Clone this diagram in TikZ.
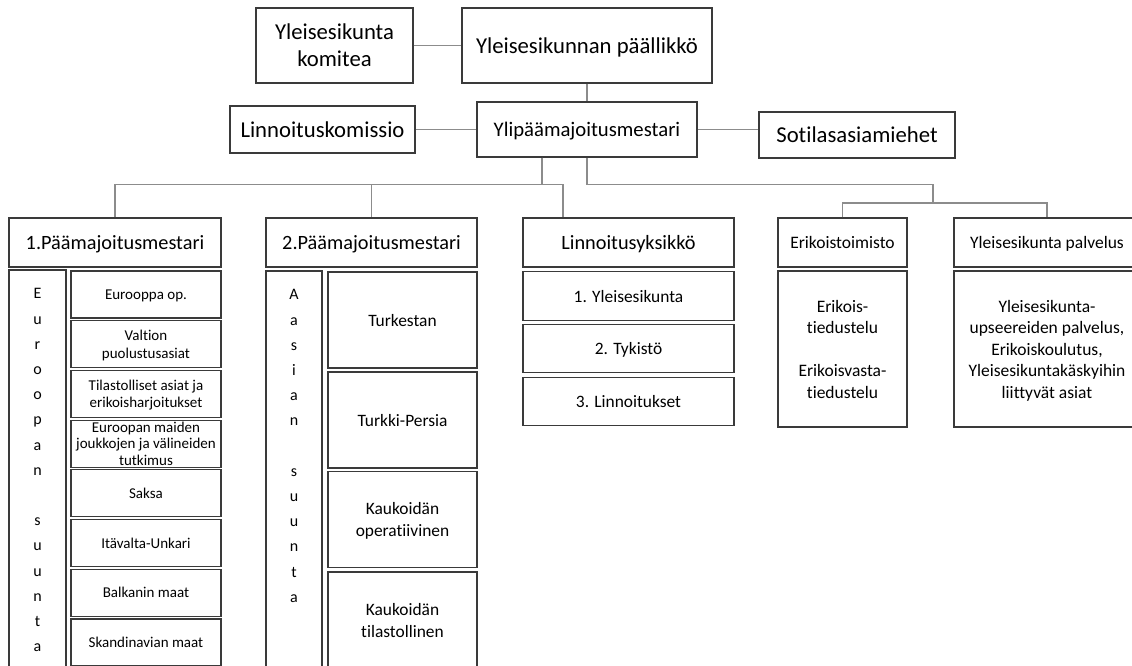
\documentclass[tikz,border=0pt]{standalone}
\usepackage{fontspec}
\setmainfont{Carlito}[Ligatures=NoCommon]
\usetikzlibrary{positioning}
\definecolor{boxline}{HTML}{3A3A3A}
\definecolor{linkline}{HTML}{8C8C8C}
\newcommand{\toptext}{\fontsize{22.7pt}{27pt}\selectfont}
\newcommand{\yptext}{\fontsize{20.7pt}{24pt}\selectfont}
\newcommand{\headtext}{\fontsize{20.3pt}{24pt}\selectfont}
\newcommand{\sidehead}{\fontsize{17.5pt}{21.5pt}\selectfont}
\newcommand{\subtext}{\fontsize{15pt}{17pt}\selectfont}
\newcommand{\midtext}{\fontsize{17.4pt}{22pt}\selectfont}
\newcommand{\lettertext}{\fontsize{16pt}{25.2pt}\selectfont}

\begin{document}
\begin{tikzpicture}[x=1pt,y=-1pt,
    orgbox/.style={draw=boxline, line width=1.2pt, inner sep=0pt, text depth=0pt, align=center},
    link/.style={draw=linkline, line width=1.1pt}]
  \useasboundingbox (0,0) rectangle (1132,666);

  % top level
  \node[orgbox, minimum width=157, minimum height=75, font=\toptext] (kom) at (334.5,45.5) {Yleisesikunta\\komitea};
  \node[orgbox, minimum width=250, minimum height=75, font=\toptext] (pal) at (587,45.5) {Yleisesikunnan päällikkö};
  \node[orgbox, minimum width=185, minimum height=47, font=\toptext] (lk) at (322.5,129.5) {Linnoituskomissio};
  \node[orgbox, minimum width=220, minimum height=55, font=\yptext] (yli) at (587,129.5) {Ylipäämajoitusmestari};
  \node[orgbox, minimum width=196, minimum height=46, font=\toptext] (sot) at (857,135) {Sotilasasiamiehet};

  % column heads
  \node[orgbox, minimum width=212, minimum height=49, font=\headtext] (pm1) at (115,242.5) {1.Päämajoitusmestari};
  \node[orgbox, minimum width=211, minimum height=49, font=\headtext] (pm2) at (371.5,242.5) {2.Päämajoitusmestari};
  \node[orgbox, minimum width=211, minimum height=49, font=\headtext] (lin) at (628.5,242.5) {Linnoitusyksikkö};
  \node[orgbox, minimum width=129, minimum height=49, font=\sidehead] (erk) at (842.5,242.5) {Erikoistoimisto};
  \node[orgbox, minimum width=186, minimum height=49, font=\sidehead] (ysp) at (1047,242.5) {Yleisesikunta palvelus};

  % 1. paamajoitusmestari
  \node[orgbox, minimum width=57, minimum height=402,
        label={[anchor=north, yshift=-19pt, inner sep=0pt, align=center, font=\lettertext]north:{E\\u\\r\\o\\o\\p\\a\\n\\[25.2pt]s\\u\\u\\n\\t\\a}}] (eur) at (37.5,471) {};
  \node[orgbox, minimum width=150, minimum height=47, font=\subtext] (e1) at (146,294.5) {Eurooppa op.};
  \node[orgbox, minimum width=150, minimum height=47, font=\fontsize{15pt}{18pt}\selectfont] (e2) at (146,344.2) {Valtion\\puolustusasiat};
  \node[orgbox, minimum width=150, minimum height=47, font=\subtext] (e3) at (146,393.9) {Tilastolliset asiat ja\\erikoisharjoitukset};
  \node[orgbox, minimum width=150, minimum height=47, font=\fontsize{15pt}{16.5pt}\selectfont] (e4) at (146,443.6) {Euroopan maiden\\joukkojen ja välineiden\\tutkimus};
  \node[orgbox, minimum width=150, minimum height=47, font=\subtext] (e5) at (146,493.3) {Saksa};
  \node[orgbox, minimum width=150, minimum height=47, font=\subtext] (e6) at (146,543) {Itävalta-Unkari};
  \node[orgbox, minimum width=150, minimum height=47, font=\subtext] (e7) at (146,592.7) {Balkanin maat};
  \node[orgbox, minimum width=150, minimum height=47, font=\subtext] (e8) at (146,642.4) {Skandinavian maat};

  % 2. paamajoitusmestari
  \node[orgbox, minimum width=56, minimum height=401,
        label={[anchor=north, yshift=-19pt, inner sep=0pt, align=center, font=\lettertext]north:{A\\a\\s\\i\\a\\n\\[25.2pt]s\\u\\u\\n\\t\\a}}] (ast) at (294,471.5) {};
  \node[orgbox, minimum width=149, minimum height=96, font=\midtext] (a1) at (402.5,320) {Turkestan};
  \node[orgbox, minimum width=149, minimum height=96, font=\midtext] (a2) at (402.5,420) {Turkki-Persia};
  \node[orgbox, minimum width=149, minimum height=96, font=\midtext] (a3) at (402.5,519.5) {Kaukoidän\\operatiivinen};
  \node[orgbox, minimum width=149, minimum height=96, font=\midtext] (a4) at (402.5,620) {Kaukoidän\\tilastollinen};

  % linnoitusyksikko
  \node[orgbox, minimum width=211, minimum height=48.5, font=\midtext] (l1) at (628.5,296) {1. Yleisesikunta};
  \node[orgbox, minimum width=211, minimum height=48.5, font=\midtext] (l2) at (628.5,348.5) {2. Tykistö};
  \node[orgbox, minimum width=211, minimum height=48.5, font=\midtext] (l3) at (628.5,401.5) {3. Linnoitukset};

  % erikoistoimisto, palvelus
  \node[orgbox, minimum width=129, minimum height=156, font=\sidehead] (erkc) at (842.5,349) {Erikois-\\tiedustelu\\[21.5pt]Erikoisvasta-\\tiedustelu};
  \node[orgbox, minimum width=186, minimum height=156, font=\sidehead] (yspc) at (1047,349) {Yleisesikunta-\\upseereiden palvelus,\\Erikoiskoulutus,\\Yleisesikuntakäskyihin\\liittyvät asiat};

  \coordinate (fork) at (933,203);
  \draw[link] (kom) -- (pal);
  \draw[link] (pal) -- (yli);
  \draw[link] (lk) -- (yli);
  \draw[link] (yli.east) -- (yli.east -| sot.west);
  \draw[link] ([xshift=-45pt]yli.south) -- ++(0,27) -| (pm1.north);
  \draw[link] ([xshift=-45pt]yli.south) -- ++(0,27) -| (pm2.north);
  \draw[link] ([xshift=-45pt]yli.south) -- ++(0,27) -| ([xshift=-65.5pt]lin.north);
  \draw[link] (yli.south) -- ++(0,27) -| (fork);
  \draw[link] (erk.north) |- (fork) -| (ysp.north);
\end{tikzpicture}
\end{document}
